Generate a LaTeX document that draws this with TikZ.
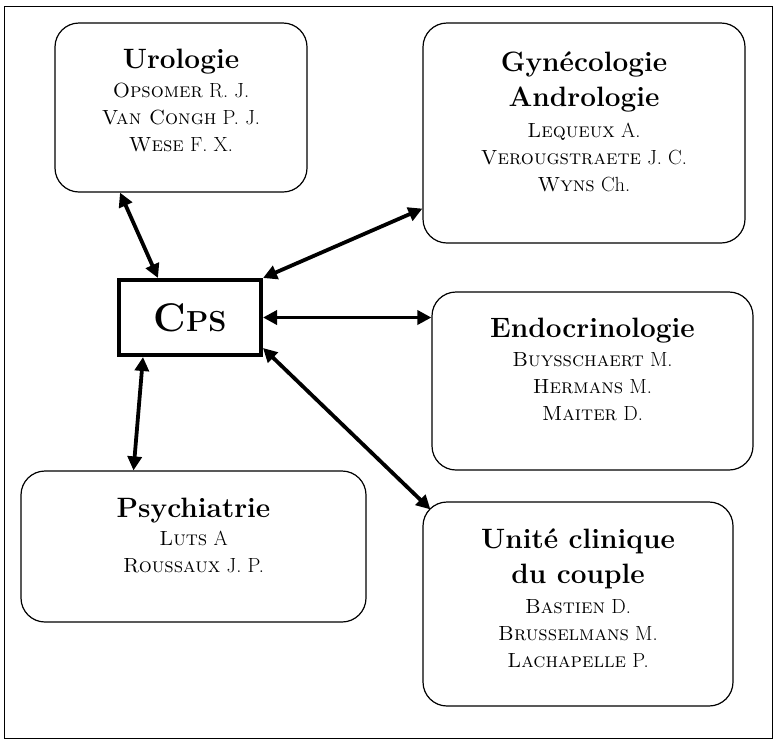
\documentclass[tikz,border=0pt]{standalone}
\usetikzlibrary{arrows.meta,positioning}

\newcommand{\titlefont}{\fontsize{28}{34}\selectfont\bfseries}
\newcommand{\namefont}{\fontsize{20.5}{27}\selectfont}

\tikzset{
  unit/.style={draw, line width=1.2pt, rounded corners=24pt, inner sep=0pt},
  unittext/.style={anchor=north, align=center, inner sep=0pt, font=\namefont},
  center/.style={draw, line width=4pt, inner sep=0pt},
  link/.style={line width=3.8pt,
    {Triangle[length=14pt,width=14pt]}-{Triangle[length=14pt,width=14pt]}}
}

\begin{document}
\begin{tikzpicture}[x=1pt,y=-1pt]
    \useasboundingbox (0,0) rectangle (775,740);
    \draw[line width=1pt] (4,6) rectangle (772,738);

    % the units
    \node[unit, minimum width=252pt, minimum height=169pt] (uro) at (181,107.5) {};
    \node[unittext, below=26pt of uro.north] (urotext)
        {{\titlefont Urologie}\\[2pt]
         \textsc{Opsomer} R. J.\\ \textsc{Van Congh} P. J.\\ \textsc{Wese} F. X.};

    \node[unit, minimum width=322pt, minimum height=220pt] (gyn) at (584,133) {};
    \node[unittext, below=29pt of gyn.north] (gyntext)
        {{\titlefont Gynécologie}\\[8pt] {\titlefont Andrologie}\\[4pt]
         \textsc{Lequeux} A.\\ \textsc{Verougstraete} J. C.\\ \textsc{Wyns} Ch.};

    \node[unit, minimum width=321pt, minimum height=178pt] (endo) at (592.5,381) {};
    \node[unittext, below=26pt of endo.north] (endotext)
        {{\titlefont Endocrinologie}\\[2pt]
         \textsc{Buysschaert} M.\\ \textsc{Hermans} M.\\ \textsc{Maiter} D.};

    \node[unit, minimum width=310pt, minimum height=204pt] (unite) at (578,604) {};
    \node[unittext, below=27pt of unite.north] (unitetext)
        {{\titlefont Unité clinique}\\[8pt] {\titlefont du couple}\\[3pt]
         \textsc{Bastien} D.\\ \textsc{Brusselmans} M.\\ \textsc{Lachapelle} P.};

    \node[unit, minimum width=345pt, minimum height=151pt] (psy) at (193.5,546.5) {};
    \node[unittext, below=27pt of psy.north] (psytext)
        {{\titlefont Psychiatrie}\\[1pt]
         \textsc{Luts} A\\ \textsc{Roussaux} J. P.};

    % the centre
    \node[center, minimum width=142pt, minimum height=75pt] (cps) at (190,317.5)
        {\bfseries\fontsize{40}{42}\selectfont C\fontsize{29}{30}\selectfont PS};

    % links
    \draw[link] ([xshift=-61pt]uro.south) -- ([xshift=-32pt]cps.north);
    \draw[link] (cps.north east) -- ([yshift=35pt]gyn.south west);
    \draw[link] (cps.east) -- (cps.east -| endo.west);
    \draw[link] ([yshift=9pt]cps.south east) -- ([shift={(8pt,-8pt)}]unite.north west);
    \draw[link] ([xshift=-47pt]cps.south) -- ([xshift=-60pt]psy.north);
\end{tikzpicture}
\end{document}
